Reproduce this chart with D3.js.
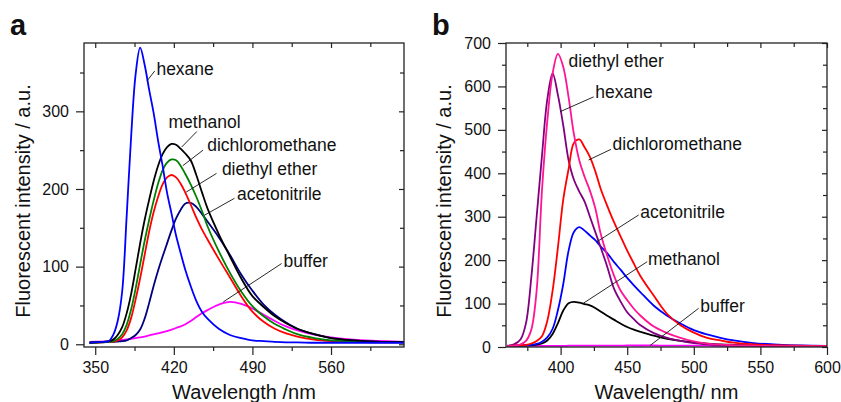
<!DOCTYPE html>
<html lang="en">

<head>
  <meta charset="UTF-8" />
  <script src="https://unpkg.com/d3@7/dist/d3.min.js"></script>
  <title>Fluorescence spectra</title>
  <style>
    body { margin: 0; background: #fff; }
    text { font-family: "Liberation Sans", Arial, sans-serif; fill: #111; }
  </style>
</head>

<body>
  <svg width="841" height="402"></svg>
  <script>
    // ---- panel a data (wavelength nm -> intensity a.u.) ----
    const wlA = [345, 355, 362, 366, 370, 374, 378, 382, 386, 390, 394, 398, 402, 406, 410, 414, 418, 422, 426, 430,
      435, 440, 445, 450, 460, 470, 480, 490, 500, 510, 520, 530, 545, 560, 580, 600, 625];
    const hexaneA = [2, 3, 4, 12, 30, 68, 165, 268, 348, 382, 360, 328, 298, 262, 230, 195, 168, 140, 118, 97,
      75, 56, 42, 33, 20, 12, 8, 5, 4, 3, 2.5, 2.5, 2, 2, 2, 2, 2];
    const methanolA = [2, 3, 4, 6, 12, 22, 40, 65, 97, 130, 160, 186, 210, 230, 245, 254, 258, 257, 252, 246,
      237, 218, 196, 175, 142, 113, 85, 62, 48, 36, 27, 20, 13, 8, 5, 3.5, 3];
    const dcmA = [2, 2.5, 3, 4, 7, 13, 25, 45, 72, 103, 133, 160, 185, 207, 224, 234, 238, 237, 230, 220,
      206, 190, 172, 152, 120, 92, 68, 49, 36, 26, 19, 13, 8, 5, 3.5, 3, 2.5];
    const etherA = [2, 2.5, 3, 3.5, 5, 9, 18, 34, 58, 85, 115, 145, 170, 190, 206, 215, 218, 215, 207, 196,
      180, 163, 148, 135, 110, 86, 62, 42, 29, 20, 14, 10, 6, 4, 3, 2.5, 2.5];
    const acnA = [2, 2.5, 3, 3, 3.5, 4, 5, 8, 12, 19, 33, 53, 75, 95, 113, 130, 147, 162, 173, 181,
      182, 177, 168, 158, 138, 115, 90, 69, 51, 38, 28, 20, 13, 8, 5, 3.5, 3];
    const bufferA = [3, 3.5, 4, 4.5, 5, 5.5, 6.3, 7, 8, 9, 10, 11.5, 12.8, 14, 15.5, 17, 19, 21, 23, 25.5,
      30, 35, 40, 44, 51, 54.5, 52, 46, 38, 30, 23, 18, 12.5, 9, 6, 4.5, 3.2];

    // ---- panel b data ----
    const wlB = [360, 365, 370, 374, 378, 382, 386, 390, 394, 398, 402, 406, 410, 414, 418, 422, 426, 430, 435, 440,
      445, 450, 455, 460, 470, 480, 490, 500, 510, 520, 530, 545, 560, 580, 600];
    const etherB = [2.5, 3, 6, 14, 40, 130, 360, 520, 630, 675, 645, 575, 490, 430, 392, 360, 320, 262, 210, 165,
      130, 108, 88, 72, 47, 32, 21, 13, 8, 5.5, 4, 3, 2.5, 2, 2];
    const hexaneB = [3, 6, 18, 55, 160, 300, 440, 570, 630, 580, 510, 430, 385, 358, 335, 300, 265, 230, 185, 135,
      105, 80, 64, 50, 32, 21, 14, 9, 6, 4, 3, 3, 2.5, 2, 2];
    const dcmB = [2.5, 3, 4, 5, 8, 14, 25, 60, 130, 230, 340, 410, 470, 478, 460, 438, 405, 365, 325, 288,
      255, 222, 192, 163, 118, 76, 50, 33, 21, 15, 10, 6, 4, 3, 2.5];
    const acnB = [2.5, 3, 3.5, 4, 5, 7, 12, 22, 42, 85, 145, 222, 265, 276, 268, 257, 246, 232, 216, 196,
      178, 159, 142, 126, 95, 72, 54, 39, 29, 21, 15, 9, 6, 3.5, 2.5];
    const methanolB = [2.5, 3, 3, 3.5, 4, 5.5, 8, 15, 30, 55, 84, 101, 104, 102, 99, 96, 90, 82, 72, 63,
      54, 46, 40, 35, 26, 19, 14, 10.5, 8, 6, 5, 4, 3, 2.5, 2];
    const bufferB = [2.5, 2.5, 2.5, 2.5, 2.5, 2.5, 2.5, 2.5, 2.5, 2.5, 2.5, 3, 3, 3, 3, 3, 3, 3, 3, 3,
      3, 3.5, 3.5, 3.5, 3.5, 3, 3, 3, 3, 2.5, 2.5, 2.5, 2.5, 2, 2];

    const svg = d3.select("svg");

    const panels = [
      {
        letter: "a", lx: 10, left: 84, right: 404, top: 43, bottom: 347,
        xDomain: [340, 625], yDomain: [-3.5, 388],
        xMajor: [350, 420, 490, 560], xMinor: [385, 455, 525, 595],
        yMajor: [0, 100, 200, 300], yMinor: [50, 150, 250, 350],
        xTitle: "Wavelength /nm", yTitleX: 30,
        wl: wlA,
        series: [
          { name: "buffer", values: bufferA, color: "#ff00ff", label: [[464, 54.5], [516, 104], [517.7, 99.7]] },
          { name: "acetonitrile", values: acnA, color: "#000080", label: [[447, 166], [474, 188], [476.2, 185.7]] },
          { name: "diethyl ether", values: etherA, color: "#ff0000", label: [[431, 196], [458, 220], [462.8, 217.9]] },
          { name: "dichloromethane", values: dcmA, color: "#008000", label: [[428, 230], [446, 250], [449.7, 249.3]] },
          { name: "methanol", values: methanolA, color: "#000000", label: [[427, 254], [440.5, 274], [415.3, 278]] },
          { name: "hexane", values: hexaneA, color: "#0000ff", label: [[396, 339], [403, 352], [404.5, 347]] }
        ]
      },
      {
        letter: "b", lx: 432, left: 506, right: 827, top: 43, bottom: 347,
        xDomain: [359, 600], yDomain: [0, 700],
        xMajor: [400, 450, 500, 550, 600], xMinor: [375, 425, 475, 525, 575],
        yMajor: [0, 100, 200, 300, 400, 500, 600, 700], yMinor: [50, 150, 250, 350, 450, 550, 650],
        xTitle: "Wavelength/ nm", yTitleX: 451,
        wl: wlB,
        series: [
          { name: "buffer", values: bufferB, color: "#ff00ff", label: [[467, 3], [503.6, 89], [504.9, 81.3]] },
          { name: "methanol", values: methanolB, color: "#000000", label: [[417, 100.6], [465, 196.4], [465.6, 188.8]] },
          { name: "acetonitrile", values: acnB, color: "#0000ff", label: [[427.3, 242.5], [458.6, 304], [459.8, 296.3]] },
          { name: "hexane", values: hexaneB, color: "#800080", label: [[399.8, 542], [424.8, 576], [426, 572.6]] },
          { name: "dichloromethane", values: dcmB, color: "#ff0000", label: [[421, 430.6], [437.8, 455.2], [439, 453.6]] },
          { name: "diethyl ether", values: etherB, color: "#ff1493", label: [null, null, [406, 645]] }
        ]
      }
    ];

    const render = (p) => {
      const x = d3.scaleLinear().domain(p.xDomain).range([p.left, p.right]);
      const y = d3.scaleLinear().domain(p.yDomain).range([p.bottom, p.top]);
      const g = svg.append("g");

      // curves
      const line = d3.line()
        .x((d) => x(d[0]))
        .y((d) => y(d[1]))
        .curve(d3.curveCatmullRom.alpha(0.5));
      p.series.forEach((s) => {
        g.append("path")
          .datum(p.wl.map((w, i) => [w, s.values[i]]))
          .attr("d", line)
          .attr("fill", "none")
          .attr("stroke", s.color)
          .attr("stroke-width", 1.8);
      });

      // frame
      g.append("rect")
        .attr("x", p.left).attr("y", p.top)
        .attr("width", p.right - p.left).attr("height", p.bottom - p.top)
        .attr("fill", "none").attr("stroke", "#222").attr("stroke-width", 1.3);

      const tickAxis = (axis, transform, values, size, fmt) => {
        const a = g.append("g").attr("transform", transform)
          .call(axis.tickValues(values).tickSizeInner(size).tickSizeOuter(0).tickPadding(7)
            .tickFormat(fmt ? d3.format("d") : ""));
        a.select(".domain").remove();
        a.selectAll("line").attr("stroke", "#222").attr("stroke-width", 1.2);
        a.selectAll("text").attr("font-size", 16).attr("fill", "#111")
          .attr("font-family", '"Liberation Sans", Arial, sans-serif');
      };
      // bottom / left: outward; top / right: inward
      tickAxis(d3.axisBottom(x), `translate(0,${p.bottom})`, p.xMajor, 8, true);
      tickAxis(d3.axisBottom(x), `translate(0,${p.bottom})`, p.xMinor, 4, false);
      tickAxis(d3.axisLeft(y), `translate(${p.left},0)`, p.yMajor, 8, true);
      tickAxis(d3.axisLeft(y), `translate(${p.left},0)`, p.yMinor, 4, false);
      tickAxis(d3.axisTop(x), `translate(0,${p.top})`, p.xMajor, -5, false);
      tickAxis(d3.axisTop(x), `translate(0,${p.top})`, p.xMinor, -4, false);
      tickAxis(d3.axisRight(y), `translate(${p.right},0)`, p.yMajor, -5, false);
      tickAxis(d3.axisRight(y), `translate(${p.right},0)`, p.yMinor, -4, false);

      // annotations with leader lines
      p.series.forEach((s) => {
        const [from, to, at] = s.label;
        if (from) {
          g.append("line")
            .attr("x1", x(from[0])).attr("y1", y(from[1]))
            .attr("x2", x(to[0])).attr("y2", y(to[1]))
            .attr("stroke", "#111").attr("stroke-width", 0.9);
        }
        g.append("text")
          .attr("x", x(at[0])).attr("y", y(at[1]))
          .attr("font-size", 17.5)
          .text(s.name);
      });

      // titles
      g.append("text")
        .attr("x", (p.left + p.right) / 2).attr("y", 399)
        .attr("text-anchor", "middle").attr("font-size", 20)
        .text(p.xTitle);
      g.append("text")
        .attr("transform", `translate(${p.yTitleX},201) rotate(-90)`)
        .attr("text-anchor", "middle").attr("font-size", 20)
        .text("Fluorescent intensity / a.u.");
      g.append("text")
        .attr("x", p.lx).attr("y", 35)
        .attr("font-size", 29).attr("font-weight", "bold")
        .text(p.letter);
    };

    panels.forEach(render);
  </script>
</body>

</html>
